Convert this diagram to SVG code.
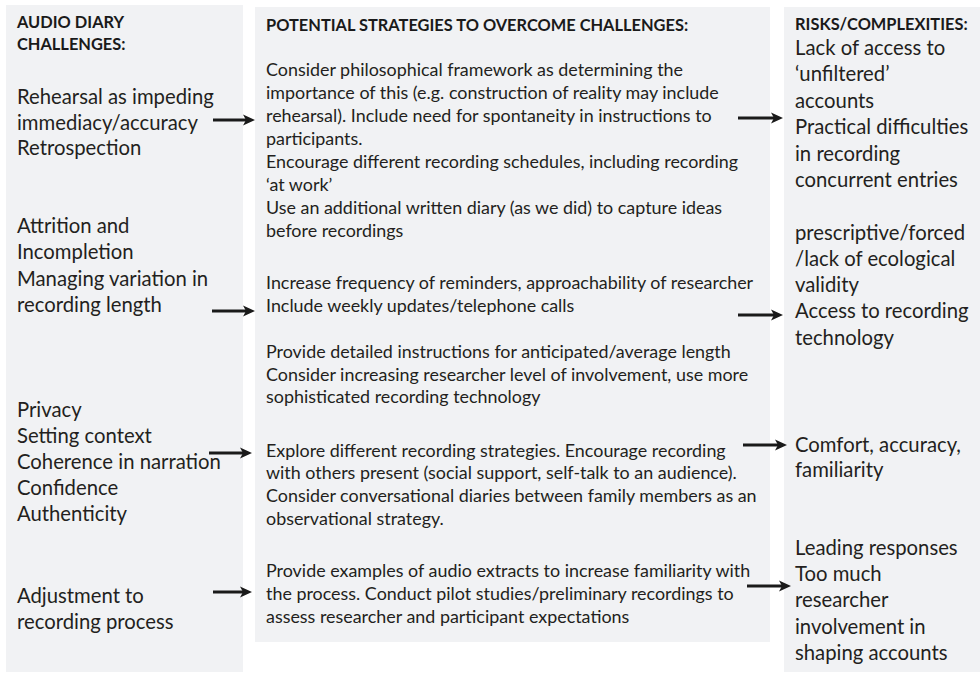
<svg xmlns="http://www.w3.org/2000/svg" width="980" height="673" viewBox="0 0 980 673">
<defs>
<style>
.panel{fill:#f1f2f4;}
.h{font-family:Lato,"Liberation Sans",sans-serif;font-weight:bold;font-size:16.4px;fill:#1a1a1a;}
.big{font-family:Lato,"Liberation Sans",sans-serif;font-size:20.3px;fill:#231f20;}
.mid{font-family:Lato,"Liberation Sans",sans-serif;font-size:17.9px;fill:#231f20;}
.arrow{stroke:#1a1a1a;stroke-width:3;fill:none;marker-end:url(#ah);}
</style>
<marker id="ah" markerUnits="userSpaceOnUse" markerWidth="13" markerHeight="12" viewBox="0 0 13 12" refX="3" refY="6" orient="auto">
<path d="M0,0.5 L12,6 L0,11.5 L3,6 Z" fill="#1a1a1a"/>
</marker>
</defs>
<g id="challenges">
<rect class="panel" x="6" y="5" width="237" height="667"/>
<text class="h" x="17" y="28">AUDIO DIARY</text>
<text class="h" x="17" y="50">CHALLENGES:</text>
<text class="big" x="17" y="104">Rehearsal as impeding</text>
<text class="big" x="17" y="129.5">immediacy/accuracy</text>
<text class="big" x="17" y="155">Retrospection</text>
<text class="big" x="17" y="233">Attrition and</text>
<text class="big" x="17" y="259">Incompletion</text>
<text class="big" x="17" y="286">Managing variation in</text>
<text class="big" x="17" y="312">recording length</text>
<text class="big" x="17" y="417">Privacy</text>
<text class="big" x="17" y="443">Setting context</text>
<text class="big" x="17" y="469">Coherence in narration</text>
<text class="big" x="17" y="495">Confidence</text>
<text class="big" x="17" y="521">Authenticity</text>
<text class="big" x="17" y="603">Adjustment to</text>
<text class="big" x="17" y="629">recording process</text>
</g>
<g id="strategies">
<rect class="panel" x="255" y="7" width="515" height="635"/>
<text class="h" x="266" y="31">POTENTIAL STRATEGIES TO OVERCOME CHALLENGES:</text>
<text class="mid" x="266" y="76">Consider philosophical framework as determining the</text>
<text class="mid" x="266" y="99">importance of this (e.g. construction of reality may include</text>
<text class="mid" x="266" y="122">rehearsal). Include need for spontaneity in instructions to</text>
<text class="mid" x="266" y="145">participants.</text>
<text class="mid" x="266" y="168">Encourage different recording schedules, including recording</text>
<text class="mid" x="266" y="191">‘at work’</text>
<text class="mid" x="266" y="214">Use an additional written diary (as we did) to capture ideas</text>
<text class="mid" x="266" y="237">before recordings</text>
<text class="mid" x="266" y="289">Increase frequency of reminders, approachability of researcher</text>
<text class="mid" x="266" y="312">Include weekly updates/telephone calls</text>
<text class="mid" x="266" y="358">Provide detailed instructions for anticipated/average length</text>
<text class="mid" x="266" y="381">Consider increasing researcher level of involvement, use more</text>
<text class="mid" x="266" y="403">sophisticated recording technology</text>
<text class="mid" x="266" y="457">Explore different recording strategies. Encourage recording</text>
<text class="mid" x="266" y="479">with others present (social support, self-talk to an audience).</text>
<text class="mid" x="266" y="502">Consider conversational diaries between family members as an</text>
<text class="mid" x="266" y="525">observational strategy.</text>
<text class="mid" x="266" y="577">Provide examples of audio extracts to increase familiarity with</text>
<text class="mid" x="266" y="600">the process. Conduct pilot studies/preliminary recordings to</text>
<text class="mid" x="266" y="623">assess researcher and participant expectations</text>
</g>
<g id="risks">
<rect class="panel" x="784" y="7" width="196" height="665"/>
<text class="h" x="795" y="30">RISKS/COMPLEXITIES:</text>
<text class="big" x="795" y="55">Lack of access to</text>
<text class="big" x="795" y="81">‘unfiltered’</text>
<text class="big" x="795" y="108">accounts</text>
<text class="big" x="795" y="134">Practical difficulties</text>
<text class="big" x="795" y="161">in recording</text>
<text class="big" x="795" y="187">concurrent entries</text>
<text class="big" x="795" y="240">prescriptive/forced</text>
<text class="big" x="795" y="266">/lack of ecological</text>
<text class="big" x="795" y="292">validity</text>
<text class="big" x="795" y="318">Access to recording</text>
<text class="big" x="795" y="345">technology</text>
<text class="big" x="795" y="452">Comfort, accuracy,</text>
<text class="big" x="795" y="477">familiarity</text>
<text class="big" x="795" y="555">Leading responses</text>
<text class="big" x="795" y="581">Too much</text>
<text class="big" x="795" y="607">researcher</text>
<text class="big" x="795" y="634">involvement in</text>
<text class="big" x="795" y="660">shaping accounts</text>
</g>
<g id="connectors">
<line class="arrow" x1="213" y1="120" x2="246" y2="120"/>
<line class="arrow" x1="212" y1="311" x2="246" y2="311"/>
<line class="arrow" x1="209" y1="453" x2="243" y2="453"/>
<line class="arrow" x1="213" y1="592" x2="243" y2="592"/>
<line class="arrow" x1="738" y1="118" x2="774" y2="118"/>
<line class="arrow" x1="738" y1="315" x2="774" y2="315"/>
<line class="arrow" x1="743" y1="445" x2="778" y2="445"/>
<line class="arrow" x1="747" y1="586" x2="782" y2="586"/>
</g>
</svg>
